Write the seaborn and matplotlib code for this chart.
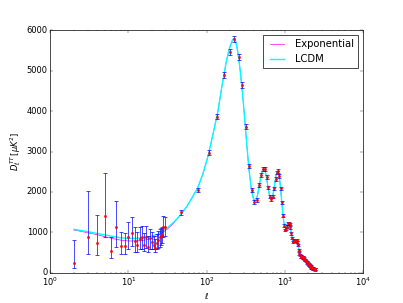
"""
CMB TT power spectrum: binned data vs two model curves.
"""

import numpy as np
import pandas as pd
import matplotlib
matplotlib.use("Agg")
import matplotlib.pyplot as plt
import seaborn as sns

# low-ell data (unbinned), asymmetric errors
low_ell = [2, 3, 4, 5, 6, 7, 8, 9, 10, 11, 12, 13, 14, 15, 16, 17, 18, 19, 20,
           21, 22, 23, 24, 25, 26, 27, 28, 29]
low_dl = [248, 892, 735, 1400, 545, 1131, 668, 660, 876, 990, 792, 693, 826, 876,
          685, 891, 644, 851, 767, 685, 604, 728, 810, 876, 908, 933, 1124, 1139]
low_err_lo = [140, 429, 305, 509, 189, 487, 206, 198, 300, 330, 290, 180, 250, 300,
              150, 280, 120, 260, 190, 110, 100, 140, 200, 240, 230, 210, 240, 230]
low_err_hi = [562, 1138, 693, 1060, 346, 644, 331, 330, 390, 400, 330, 320, 300, 280,
              290, 260, 270, 230, 230, 230, 220, 220, 210, 210, 200, 200, 270, 250]

# high-ell binned data (delta ell = 30)
high_ell = [47.5, 77.5, 107.5, 137.5, 167.5, 197.5, 227.5, 257.5, 287.5, 317.5,
            347.5, 377.5, 407.5, 437.5, 467.5, 497.5, 527.5, 557.5, 587.5, 617.5,
            647.5, 677.5, 707.5, 737.5, 767.5, 797.5, 827.5, 857.5, 887.5, 917.5,
            947.5, 977.5, 1007.5, 1037.5, 1067.5, 1097.5, 1127.5, 1157.5, 1187.5, 1217.5,
            1247.5, 1277.5, 1307.5, 1337.5, 1367.5, 1397.5, 1427.5, 1457.5, 1487.5, 1517.5,
            1547.5, 1577.5, 1607.5, 1637.5, 1667.5, 1697.5, 1727.5, 1757.5, 1787.5, 1817.5,
            1847.5, 1877.5, 1907.5, 1937.5, 1967.5, 1997.5, 2027.5, 2057.5, 2087.5, 2117.5,
            2147.5, 2177.5, 2207.5, 2237.5, 2267.5, 2297.5, 2327.5, 2357.5, 2387.5, 2417.5,
            2447.5, 2477.5]
high_dl = [1495, 2047, 2970, 3861, 4893, 5455, 5776, 5346, 4646, 3614,
           2640, 2047, 1757, 1800, 2170, 2426, 2566, 2559, 2368, 2113,
           1881, 1824, 1881, 2089, 2319, 2475, 2517, 2393, 2089, 1742,
           1411, 1163, 1057, 1100, 1139, 1222, 1222, 1205, 1124, 975,
           866, 767, 780, 792, 800, 805, 810, 760, 685, 562,
           480, 440, 400, 396, 385, 380, 381, 360, 340, 320,
           314, 290, 270, 250, 235, 220, 205, 190, 175, 165,
           150, 140, 130, 120, 112, 105, 100, 95, 92, 88,
           85, 80]
high_err = [55, 50, 55, 60, 65, 70, 75, 70, 65, 60,
            55, 50, 45, 45, 45, 50, 50, 50, 45, 45,
            40, 40, 40, 40, 40, 40, 40, 40, 40, 35,
            35, 35, 35, 35, 35, 35, 35, 35, 35, 35,
            30, 30, 30, 30, 30, 30, 30, 30, 30, 30,
            30, 30, 30, 30, 30, 30, 30, 30, 30, 30,
            30, 30, 30, 30, 30, 30, 30, 30, 30, 30,
            30, 30, 30, 30, 30, 30, 30, 30, 30, 30,
            30, 30]

# model curves
theory_ell = [2, 3, 4, 5, 6, 7, 8, 10, 12, 14, 17, 20, 24, 28, 32, 38, 45, 55, 65,
              77, 90, 105, 120, 140, 160, 180, 200, 215, 225, 235, 250, 270, 290, 310,
              330, 350, 370, 390, 410, 430, 450, 470, 490, 510, 530, 545, 560, 580,
              600, 620, 640, 660, 680, 700, 720, 740, 760, 780, 800, 815, 830, 850,
              870, 890, 910, 930, 950, 970, 1000, 1030, 1060, 1090, 1120, 1150, 1180,
              1210, 1240, 1270, 1300, 1330, 1360, 1390, 1420, 1450, 1480, 1510, 1540,
              1570, 1600, 1650, 1700, 1750, 1800, 1850, 1900, 2000, 2100, 2200, 2300,
              2400, 2500]
lcdm_dl = [1074, 1015, 970, 935, 905, 880, 865, 850, 850, 860, 880, 905, 960, 1050,
           1120, 1250, 1400, 1620, 1850, 2100, 2450, 2900, 3400, 4000, 4700, 5250,
           5600, 5760, 5800, 5740, 5500, 5000, 4400, 3750, 3100, 2550, 2150, 1900,
           1780, 1790, 1920, 2120, 2330, 2480, 2560, 2570, 2530, 2410, 2230, 2050,
           1920, 1850, 1840, 1890, 2000, 2150, 2300, 2430, 2500, 2510, 2480, 2390,
           2250, 2060, 1850, 1640, 1450, 1300, 1150, 1110, 1140, 1200, 1230, 1210,
           1140, 1020, 900, 810, 770, 770, 800, 820, 810, 770, 700, 610, 530, 480,
           450, 430, 410, 380, 340, 300, 265, 220, 175, 135, 105, 88, 75]
# exponential model only differs at low ell
exp_low_dl = [1057, 990, 940, 891, 855, 826, 805, 785, 785, 792, 815, 850, 920,
              1010, 1090, 1230]
exp_dl = exp_low_dl + lcdm_dl[len(exp_low_dl):]


def main():
    plt.style.use("classic")
    plt.rcParams["mathtext.fontset"] = "dejavusans"

    fig, ax = plt.subplots(figsize=(8.06, 6.06), dpi=50)
    fig.patch.set_facecolor("white")

    curves = pd.DataFrame({"ell": theory_ell, "lcdm": lcdm_dl, "exp": exp_dl})
    sns.lineplot(data=curves, x="ell", y="exp", color="magenta", lw=1,
                 label="Exponential", ax=ax)
    sns.lineplot(data=curves, x="ell", y="lcdm", color="cyan", lw=2,
                 label="LCDM", ax=ax)

    # data points with error bars
    ax.errorbar(low_ell, low_dl, yerr=[low_err_lo, low_err_hi], fmt="r.",
                ecolor="b", elinewidth=1, capsize=3, capthick=1, ms=7, zorder=3)
    ax.errorbar(high_ell, high_dl, yerr=high_err, fmt="r.",
                ecolor="b", elinewidth=1, capsize=3, capthick=1, ms=7, zorder=3)

    ax.set_xscale("log")
    ax.set_xlim(1, 1e4)
    ax.set_ylim(0, 6000)
    ax.set_xlabel(r"$\ell$")
    ax.set_ylabel(r"$D_\ell^{TT}\,[\mu K^2]$")
    ax.legend(loc="upper right", fontsize=14.4)

    fig.savefig("out.png", dpi=50, facecolor="white")


if __name__ == "__main__":
    main()
